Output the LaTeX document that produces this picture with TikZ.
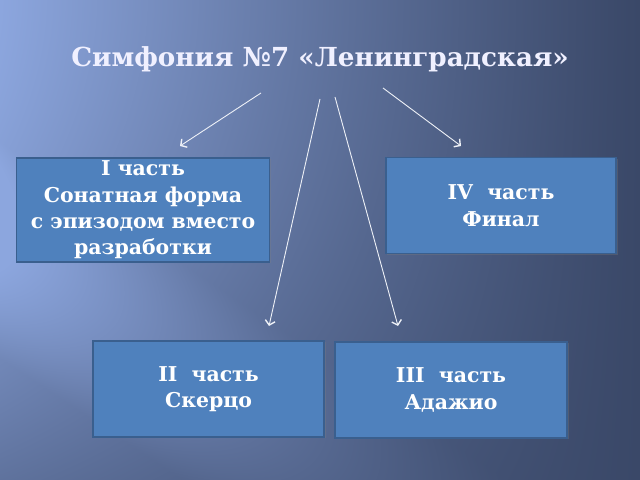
\documentclass[tikz,border=0pt]{standalone}
\usepackage{fontspec}
\setmainfont{DejaVu Serif}
\usetikzlibrary{arrows.meta,shadows}
\definecolor{boxfill}{HTML}{4F81BD}
\definecolor{boxline}{HTML}{3A5F8E}
\definecolor{arrowcol}{HTML}{EEF1F7}
\pgfdeclarefunctionalshading{bgfun}{\pgfpoint{-4bp}{-4bp}}{\pgfpoint{644bp}{484bp}}{}{
2 copy
480 exch sub 480 div abs
exch 640 div
1 exch sub abs 1.1 exp
exch 1.8 exp 0.55 mul 1 exch sub
mul
3 1 roll
480 exch sub
exch dup 3 1 roll
0 sub 0.555 mul
exch 250 sub 0.832 mul sub abs
90 div dup mul 1 exch sub
dup abs add 2 div
exch 640 div 1 exch sub mul 0.2 mul
add
dup 1 sub abs neg 1 add add 2 div
dup 82 mul 58 add 255 div exch
dup 94 mul 72 add 255 div exch
118 mul 104 add 255 div
}
\tikzset{
  partbox/.style={draw=boxline, line width=1.5pt, fill=boxfill, inner sep=0pt,
    text=white, align=center, font=\bfseries\fontsize{20.5}{26.5}\selectfont,
    drop shadow={shadow xshift=1.5pt, shadow yshift=-1.5pt, opacity=0.3}},
  conn/.style={draw=arrowcol, line width=0.9pt,
    -{Straight Barb[length=4.5pt,width=10pt,line width=1.4pt]}},
  titletext/.style={text=white!94!blue, font=\bfseries\fontsize{26.3}{32}\selectfont},
}
\begin{document}
\begin{tikzpicture}[x=1bp,y=-1bp]
\useasboundingbox (0,0) rectangle (640,480);
\node (bg) [inner sep=0pt, outer sep=0pt, anchor=north west] at (-4,-4) {\pgfuseshading{bgfun}};
% title
\node (t) [titletext] at (320,59) {Симфония №7 «Ленинградская»};
% boxes
\node (p1) [partbox, minimum width=253bp, minimum height=104bp] at (143,210)
  {I часть\\Сонатная форма\\с эпизодом вместо\\разработки};
\node (p4) [partbox, minimum width=230bp, minimum height=96bp] at (501,205.5)
  {IV\ \ часть\\Финал};
\node (p2) [partbox, minimum width=231bp, minimum height=96bp] at (208.5,389)
  {II\ \ часть\\Скерцо};
\node (p3) [partbox, minimum width=232bp, minimum height=96bp] at (451,390)
  {III\ \ часть\\Адажио};
% connector ends
\coordinate (s1) at (261,93);
\coordinate (e1) at (180,146);
\coordinate (s2) at (320,99);
\coordinate (e2) at (269,326);
\coordinate (s3) at (335,97);
\coordinate (e3) at (398,326);
\coordinate (s4) at (383,88);
\coordinate (e4) at (461,146);
\draw[conn] (s1) -- (e1);
\draw[conn] (s2) -- (e2);
\draw[conn] (s3) -- (e3);
\draw[conn] (s4) -- (e4);
\end{tikzpicture}
\end{document}
